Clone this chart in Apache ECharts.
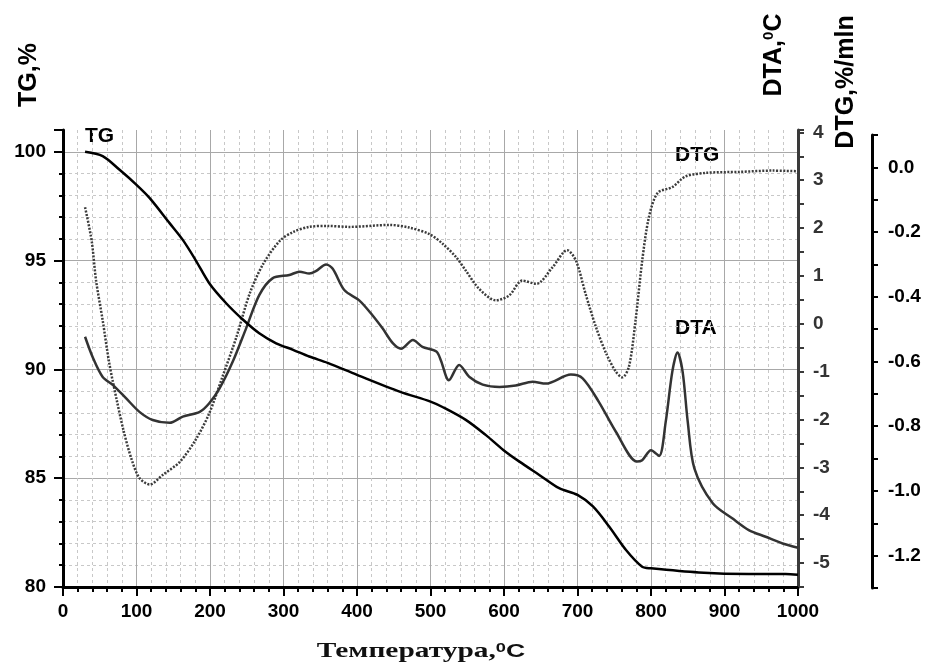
<!DOCTYPE html>
<html>
<head>
<meta charset="utf-8">
<title>TG / DTA / DTG</title>
<style>
  html, body { margin: 0; padding: 0; background: #fff; }
  #chart { width: 926px; height: 669px; }
</style>
<script src="https://cdn.jsdelivr.net/npm/echarts@6/dist/echarts.min.js"></script>
</head>
<body>
<div id="chart"></div>
<script>
// values
var tgTemp = [30, 54, 77, 100, 118, 145, 163, 181, 199, 222, 245, 267, 290, 313, 335, 360, 400, 458, 500, 517,
  548, 575, 599, 621, 648, 675, 700, 721, 743, 766, 788, 800, 865, 933, 983, 1000];
var tgValue = [100, 99.8, 99.17, 98.48, 97.87, 96.72, 95.95, 94.99, 93.96, 93.04, 92.28, 91.66, 91.2, 90.9, 90.59, 90.3, 89.75, 88.98, 88.52, 88.26,
  87.68, 86.99, 86.3, 85.76, 85.15, 84.54, 84.23, 83.7, 82.78, 81.7, 80.93, 80.86, 80.67, 80.6, 80.6, 80.56];

var dtaTemp = [30, 41, 54, 68, 86, 104, 122, 145, 163, 186, 199, 213, 231, 249, 267, 285, 308, 322, 335, 344,
  358, 367, 383, 403, 421, 435, 449, 460, 476, 489, 508, 514, 525, 539, 553, 571, 594, 616, 639, 657,
  691, 707, 729, 752, 781, 788, 800, 811, 820, 829, 836, 843, 850, 859, 884, 911, 933, 956, 979, 1000];
var dtaValue = [-0.27, -0.72, -1.11, -1.28, -1.56, -1.84, -2.01, -2.07, -1.94, -1.84, -1.66, -1.35, -0.79, -0.1, 0.6, 0.95, 1.02, 1.09, 1.05, 1.1,
  1.24, 1.15, 0.7, 0.49, 0.18, -0.1, -0.41, -0.52, -0.34, -0.48, -0.58, -0.76, -1.18, -0.86, -1.11, -1.27, -1.32, -1.29, -1.21, -1.25,
  -1.06, -1.14, -1.63, -2.25, -2.88, -2.85, -2.64, -2.76, -2.05, -1.0, -0.6, -1.0, -2.05, -3.02, -3.75, -4.07, -4.31, -4.45, -4.59, -4.68];

var dtgTemp = [30, 39, 45, 54, 63, 73, 82, 93, 104, 118, 136, 159, 181, 199, 217, 236, 254, 272, 295, 313,
  335, 360, 390, 444, 471, 499, 517, 535, 548, 566, 589, 607, 625, 644, 666, 686, 698, 711, 725, 739,
  752, 761, 770, 779, 788, 797, 809, 829, 847, 875, 920, 965, 1000];
var dtgValue = [-0.123, -0.227, -0.35, -0.473, -0.606, -0.718, -0.81, -0.9, -0.96, -0.98, -0.95, -0.91, -0.84, -0.76, -0.647, -0.524, -0.39, -0.3, -0.227, -0.2,
  -0.184, -0.181, -0.184, -0.178, -0.186, -0.207, -0.237, -0.278, -0.319, -0.375, -0.411, -0.396, -0.35, -0.36, -0.309, -0.256, -0.289, -0.391, -0.493, -0.575,
  -0.631, -0.649, -0.616, -0.473, -0.289, -0.156, -0.079, -0.061, -0.028, -0.017, -0.014, -0.01, -0.012];

function pairs(xs, ys) {
  return xs.map(function (x, i) { return [x, ys[i]]; });
}

var sans = 'Liberation Sans, Arial, sans-serif';
var serif = 'Liberation Serif, Times New Roman, serif';
var tickLabel = { color: '#000', fontSize: 19, fontWeight: 'bold', fontFamily: sans };

var chart = echarts.init(document.getElementById('chart'));

chart.setOption({
  animation: false,
  backgroundColor: '#fff',
  grid: [
    { left: 63, right: 128, top: 130, bottom: 82 },
    { left: 63, right: 128, top: 135, bottom: 81 }
  ],
  xAxis: [
    {
      type: 'value', gridIndex: 0, min: 0, max: 1000, interval: 100,
      axisLine: { onZero: false, lineStyle: { color: '#000', width: 3 } },
      axisTick: { length: 9, lineStyle: { color: '#000', width: 2 } },
      minorTick: { show: true, splitNumber: 5, length: 5, lineStyle: { color: '#000', width: 2 } },
      axisLabel: Object.assign({ margin: 15, formatter: function (v) { return String(v); } }, tickLabel),
      splitLine: { show: true, lineStyle: { color: '#a8a8a8', width: 1 } },
      minorSplitLine: { show: true, lineStyle: { color: '#c8c8c8', width: 1, type: [3, 3] } }
    },
    { type: 'value', gridIndex: 1, min: 0, max: 1000, show: false }
  ],
  yAxis: [
    {
      // TG, minor steps of 1
      type: 'value', gridIndex: 0, position: 'left', min: 80, max: 101, interval: 1,
      axisLine: { show: true, onZero: false, lineStyle: { color: '#000', width: 3 } },
      axisTick: { show: true, length: 4, lineStyle: { color: '#000', width: 2 } },
      axisLabel: { show: false },
      splitLine: { show: true, showMinLine: false, showMaxLine: false, lineStyle: { color: '#c8c8c8', width: 1, type: [3, 3] } }
    },
    {
      // TG, major steps of 5
      type: 'value', gridIndex: 0, position: 'left', min: 80, max: 101, interval: 5,
      axisLine: { show: false, onZero: false },
      axisTick: { show: true, length: 9, lineStyle: { color: '#000', width: 2 } },
      axisLabel: Object.assign({
        margin: 17,
        formatter: function (v) { return v % 5 === 0 ? String(v) : ''; }
      }, tickLabel),
      splitLine: { show: true, showMinLine: false, showMaxLine: false, lineStyle: { color: '#a8a8a8', width: 1 } }
    },
    {
      // DTA
      type: 'value', gridIndex: 0, position: 'right', min: -5.5, max: 4.05, interval: 0.5,
      axisLine: { show: true, onZero: false, lineStyle: { color: '#3a3a3a', width: 3 } },
      axisTick: { show: true, length: 6, lineStyle: { color: '#3a3a3a', width: 2 } },
      axisLabel: {
        margin: 15, color: '#333', fontSize: 19, fontWeight: 'bold', fontFamily: sans,
        formatter: function (v) {
          return Math.abs(v - Math.round(v)) < 1e-6 ? String(Math.round(v)) : '';
        }
      },
      splitLine: { show: false }
    },
    {
      // DTG
      type: 'value', gridIndex: 1, position: 'right', offset: 74, min: -1.3, max: 0.1, interval: 0.1,
      axisLine: { show: true, onZero: false, lineStyle: { color: '#000', width: 3 } },
      axisTick: { show: true, length: 6, lineStyle: { color: '#000', width: 2 } },
      axisLabel: Object.assign({
        margin: 16,
        formatter: function (v) {
          var k = Math.round(v * 10);
          return k % 2 === 0 ? (k / 10).toFixed(1) : '';
        }
      }, tickLabel),
      splitLine: { show: false }
    }
  ],
  series: [
    {
      name: 'TG', type: 'line', xAxisIndex: 0, yAxisIndex: 0,
      data: pairs(tgTemp, tgValue), smooth: 0.3, showSymbol: false,
      lineStyle: { color: '#000', width: 2.5 }, z: 5
    },
    {
      name: 'DTA', type: 'line', xAxisIndex: 0, yAxisIndex: 2,
      data: pairs(dtaTemp, dtaValue), smooth: 0.3, showSymbol: false,
      lineStyle: { color: '#333', width: 2.5 }, z: 4
    },
    {
      name: 'DTG', type: 'line', xAxisIndex: 1, yAxisIndex: 3,
      data: pairs(dtgTemp, dtgValue), smooth: 0.3, showSymbol: false,
      lineStyle: { color: '#3c3c3c', width: 2.5, type: [2, 1.5] }, z: 3
    }
  ],
  graphic: [
    { type: 'text', x: 29, y: 75, rotation: Math.PI / 2,
      style: { text: 'TG,%', fontSize: 25, fontWeight: 'bold', fontFamily: sans, fill: '#000', align: 'center', verticalAlign: 'middle' } },
    { type: 'text', x: 774, y: 55, rotation: Math.PI / 2,
      style: { text: 'DTA,{s|0}C', fontSize: 25, fontWeight: 'bold', fontFamily: sans, fill: '#000', align: 'center', verticalAlign: 'middle',
        rich: { s: { fontSize: 15, fontWeight: 'bold', fontFamily: sans, verticalAlign: 'top', lineHeight: 25 } } } },
    { type: 'text', x: 846, y: 82, rotation: Math.PI / 2,
      style: { text: 'DTG,%/mln', fontSize: 25, fontWeight: 'bold', fontFamily: sans, fill: '#000', align: 'center', verticalAlign: 'middle' } },
    { type: 'text', x: 421, y: 652, scaleX: 1.4,
      style: { text: 'Температура,{s|0}{c|C}', fontSize: 21, fontWeight: 'bold', fontFamily: serif, fill: '#111', align: 'center', verticalAlign: 'middle',
        rich: {
          s: { fontSize: 13, fontWeight: 'bold', fontFamily: sans, verticalAlign: 'top', lineHeight: 21 },
          c: { fontSize: 19, fontWeight: 'bold', fontFamily: sans }
        } } },
    { type: 'text', x: 85, y: 136,
      style: { text: 'TG', fontSize: 21, fontWeight: 'bold', fontFamily: sans, fill: '#000', verticalAlign: 'middle' } },
    { type: 'text', x: 675, y: 155,
      style: { text: 'DTG', fontSize: 21, fontWeight: 'bold', fontFamily: sans, fill: '#000', verticalAlign: 'middle' } },
    { type: 'text', x: 675, y: 328,
      style: { text: 'DTA', fontSize: 21, fontWeight: 'bold', fontFamily: sans, fill: '#000', verticalAlign: 'middle' } }
  ]
});
</script>
</body>
</html>
